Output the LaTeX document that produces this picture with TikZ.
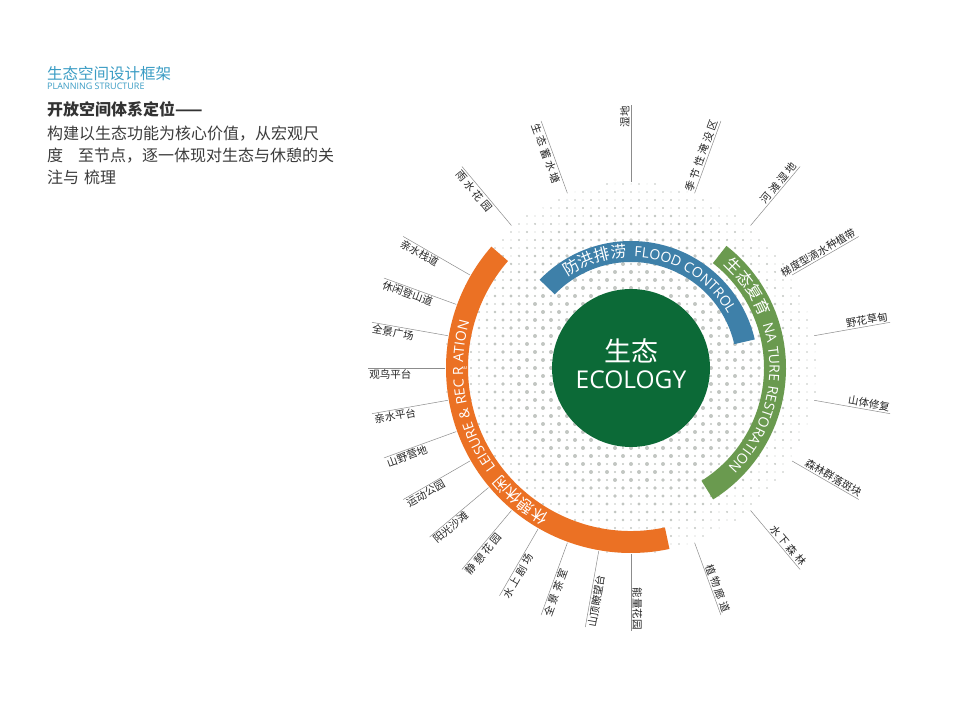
\documentclass[tikz,border=0pt]{standalone}
\usepackage{fontspec}
\usetikzlibrary{decorations.text}
\newfontfamily\cjkf{Noto Sans CJK SC}
\newfontfamily\latf{Open Sans}
\definecolor{ttl}{HTML}{3A9CC4}
\definecolor{bodyc}{HTML}{3C3C3C}
\definecolor{cblue}{HTML}{3E80A9}
\definecolor{cgrn}{HTML}{6A9A4F}
\definecolor{corg}{HTML}{EB7124}
\definecolor{ceco}{HTML}{0C6A37}
\definecolor{dotc}{HTML}{C2C6C2}
\definecolor{spk}{HTML}{8C8C8C}
\newcommand\ls{\hspace{2.5pt}}
\begin{document}
\begin{tikzpicture}[x=1pt,y=1pt,
  lbl/.style={font=\cjkf\fontsize{10.5}{10.5}\selectfont, text=black!85, inner sep=1.2pt},
  spoke/.style={draw=spk, line width=0.5pt},
  lefttxt/.style={anchor=base west, inner sep=0pt}]
\fill[white] (0,0) rectangle (960,720);
\useasboundingbox (0,0) rectangle (960,720);

% left text block
\node[lefttxt, font=\cjkf\fontsize{15.5}{15.5}\selectfont, text=ttl] (title) at (47,640) {生态空间设计框架};
\node[lefttxt, font=\latf\fontsize{9}{9}\selectfont, text=ttl] (sub) at (47,630) {PLANNING STRUCTURE};
\node[lefttxt, font=\cjkf\bfseries\fontsize{16}{16}\selectfont, text=black!80] (head) at (47,604.5) {开放空间体系定位——};
\node[lefttxt, font=\cjkf\fontsize{16}{16}\selectfont, text=bodyc] (b1) at (47,580.5) {构建以生态功能为核心价值，从宏观尺};
\node[lefttxt, font=\cjkf\fontsize{16}{16}\selectfont, text=bodyc] (b2) at (47,558.5) {度\hspace{15pt}至节点，逐一体现对生态与休憩的关};
\node[lefttxt, font=\cjkf\fontsize{16}{16}\selectfont, text=bodyc] (b3) at (47,536.5) {注与\hspace{5pt}梳理};

\begin{scope}[shift={(631,352)}]
% dotted disc
\foreach \i in {-23,...,23}{
  \foreach \j in {-23,...,23}{
    \pgfmathsetmacro\xx{\j*8}
    \pgfmathsetmacro\yy{\i*8}
    \pgfmathsetmacro\rr{veclen(\xx,\yy)}
    \pgfmathsetmacro\ff{mod(abs(\i+\j),2)==0 ? 1 : 0.6}
    \pgfmathsetmacro\dd{(\rr>186 || \rr<78)?0:(\ff*((\rr<115)?2.0:(2.0-(\rr-115)*0.017)))}
    \ifdim\dd pt>0.4pt \fill[dotc] (\xx,\yy) circle[radius=\dd]; \fi
  }
}
% bands
\fill[cblue] (136:127) arc[start angle=136,end angle=13,radius=127] -- (13:106) arc[start angle=13,end angle=136,radius=106] -- cycle;
\fill[cgrn] (52:155) arc[start angle=52,end angle=-58,radius=155] -- (-58:133) arc[start angle=-58,end angle=52,radius=133] -- cycle;
\fill[corg] (139:185) arc[start angle=139,end angle=282,radius=185] -- (282:163) arc[start angle=282,end angle=139,radius=163] -- cycle;
% band texts
\path[decorate, decoration={text along path, text color=white,
  text={|\cjkf\fontsize{16}{16}\selectfont|防洪排涝{\kern7pt}|\latf\fontsize{14}{14}\selectfont|FLOOD CONTROL}}]
  (125:111) arc[start angle=125, end angle=0, radius=111];
\path[decorate, decoration={text along path, text color=white,
  text={|\cjkf\fontsize{16}{16}\selectfont|生态复育{\kern8pt}|\latf\fontsize{14}{14}\selectfont|NA TURE RESTORATION}}]
  (48:138.5) arc[start angle=48, end angle=-80, radius=138.5];
\path[decorate, decoration={text along path, text color=white,
  text={|\cjkf\fontsize{16}{16}\selectfont|休憩休闲{\kern8pt}|\latf\fontsize{14}{14}\selectfont|LEISURE {\&} REC R ATION}}]
  (-119:168) arc[start angle=-119, end angle=-230, radius=168];
\node[text=white, font=\latf\fontsize{6}{6}\selectfont, rotate=90, inner sep=0pt] (strayE) at (180:166) {E};

% center
\node[circle, fill=ceco, minimum size=158pt, inner sep=0pt] (eco) at (0,0) {};
\node[text=white, font=\cjkf\fontsize{27}{27}\selectfont, anchor=base, inner sep=0pt] (eco1) at (0,6.2) {生态};
\node[text=white, font=\latf\fontsize{24.5}{24.5}\selectfont, anchor=base, inner sep=0pt] (eco2) at (0,-20.75) {ECOLOGY};

% right spokes
\foreach \a/\t [count=\k] in {90/湿地, 70/季\ls 节\ls 性\ls 淹\ls 没\ls 区, 50/河\ls 滩\ls 湿\ls 地, 30/梯度型滴水种植带, 10/野花草甸, -10/山体修复, -30/森林群落斑块, -50/水\ls 下\ls 森\ls 林, -70/植\ls 物\ls 廊\ls 道, -90/能量花园}{
  \coordinate (ra\k) at (\a:186);
  \coordinate (rb\k) at (\a:263);
  \draw[spoke] (ra\k) -- (rb\k);
  \node[lbl, rotate=\a, anchor=south east] (rl\k) at (rb\k) {\t};
}
% left spokes
\foreach \a/\t [count=\k] in {260/山顶瞭望台, 250/全\ls 景\ls 茶\ls 室, 240/水\ls 上\ls 剧\ls 场, 230/静\ls 憩\ls 花\ls 园, 220/阳光沙滩, 210/运动公园, 200/山野营地, 190/亲水平台, 180/观鸟平台, 170/全景广场, 160/休闲登山道, 150/亲水栈道, 130/雨\ls 水\ls 花\ls 园, 110/生\ls 态\ls 蓄\ls 水\ls 塘}{
  \coordinate (la\k) at (\a:186);
  \coordinate (lb\k) at (\a:263);
  \draw[spoke] (la\k) -- (lb\k);
  \node[lbl, rotate=\a-180, anchor=north west] (ll\k) at (lb\k) {\t};
}
\end{scope}
\end{tikzpicture}
\end{document}
